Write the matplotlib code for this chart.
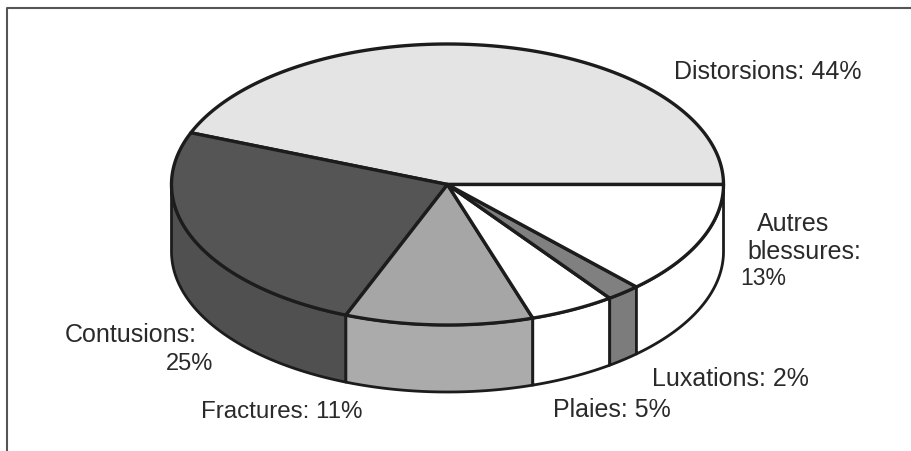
import numpy as np
import matplotlib
matplotlib.use('Agg')
import matplotlib.pyplot as plt

labels = ['Distorsions: 44%', 'Contusions:\n25%', 'Fractures: 11%', 'Plaies: 5%', 'Luxations: 2%', 'Autres\nblessures:\n13%']
shares = [44, 25, 11, 5, 2, 13]
colors = ['#e4e4e4', '#555555', '#a6a6a6', '#ffffff', '#808080', '#ffffff']
side_colors = ['#e4e4e4', '#505050', '#ababab', '#ffffff', '#7c7c7c', '#ffffff']

# pie geometry, in pixels of the picture
cx, cy = 447.5, 185.5
rx, ry = 276, 140.5
depth = 67
ink = '#1c1c1c'
lw = 2.0


def arc(a0, a1):
    t = np.radians(np.linspace(a0, a1, 200))
    return cx + rx * np.cos(t), cy - ry * np.sin(t)


plt.rcParams['font.family'] = ['Liberation Sans', 'DejaVu Sans']
fig = plt.figure(figsize=(9.12, 4.52), dpi=100)
ax = fig.add_axes([0, 0, 1, 1])
ax.set_xlim(0, 912)
ax.set_ylim(452, 0)
ax.axis('off')

# frame, only left and top made it into the scan
ax.plot([7, 7, 912], [452, 9, 9], color='#555555', lw=1.5, zorder=1)

edges = np.concatenate([[0], np.cumsum(shares)]) * 360 / sum(shares)

# side wall, only the front half shows
for i in range(len(shares)):
    a0, a1 = max(edges[i], 180), edges[i + 1]
    if a1 <= a0:
        continue
    x, y = arc(a0, a1)
    ax.fill(np.r_[x, x[::-1]], np.r_[y, y[::-1] + depth], facecolor=side_colors[i],
            edgecolor=ink, lw=lw, joinstyle='round', zorder=2)

# top face
for i in range(len(shares)):
    x, y = arc(edges[i], edges[i + 1])
    ax.fill(np.r_[cx, x], np.r_[cy, y], facecolor=colors[i], edgecolor=ink,
            lw=lw + 0.4, joinstyle='round', zorder=4)

text_kw = dict(color='#2a2a2a', va='center', zorder=5)
ax.text(674, 72, labels[0], ha='left', fontsize=18, **text_kw)
ax.text(65, 335, 'Contusions:', ha='left', fontsize=18, **text_kw)
ax.text(213, 364, '25%', ha='right', fontsize=17, **text_kw)
ax.text(201, 412, labels[2], ha='left', fontsize=17.4, **text_kw)
ax.text(553, 410, labels[3], ha='left', fontsize=18, **text_kw)
ax.text(652, 379, labels[4], ha='left', fontsize=18, **text_kw)
ax.text(757, 224, 'Autres', ha='left', fontsize=18, **text_kw)
ax.text(747, 252, 'blessures:', ha='left', fontsize=18, **text_kw)
ax.text(740, 279, '13%', ha='left', fontsize=16.5, **text_kw)

fig.savefig('out.png', dpi=100)
